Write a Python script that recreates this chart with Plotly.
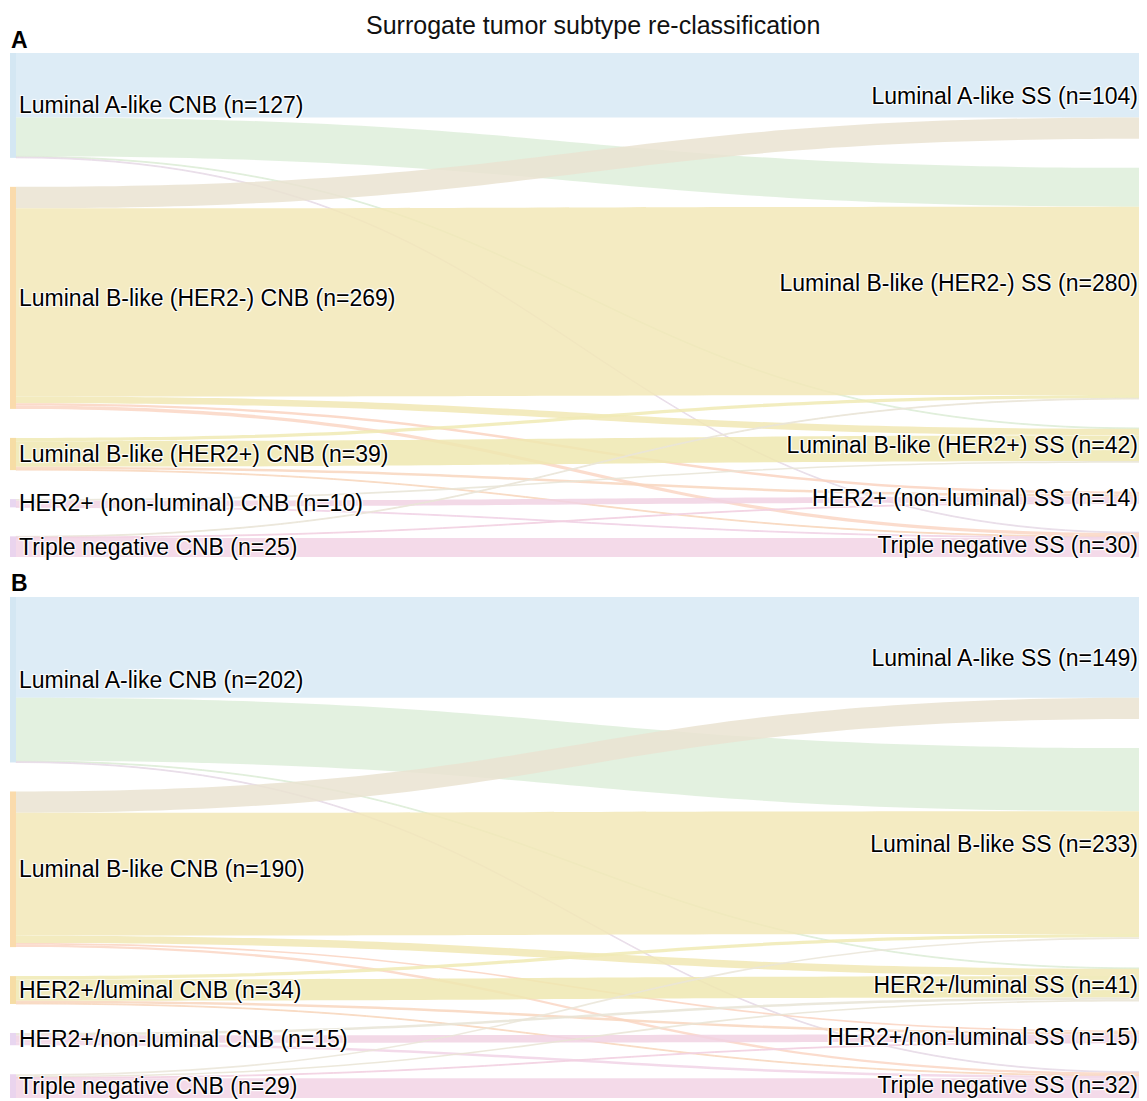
import plotly.graph_objects as go

# ---------------- Data ----------------
title_text = "Surrogate tumor subtype re-classification"

# Panel A
a_left_labels = ["Luminal A-like CNB (n=127)", "Luminal B-like (HER2-) CNB (n=269)",
                 "Luminal B-like (HER2+) CNB (n=39)", "HER2+ (non-luminal) CNB (n=10)",
                 "Triple negative CNB (n=25)"]
a_right_labels = ["Luminal A-like SS (n=104)", "Luminal B-like (HER2-) SS (n=280)",
                  "Luminal B-like (HER2+) SS (n=42)", "HER2+ (non-luminal) SS (n=14)",
                  "Triple negative SS (n=30)"]
# rows: CNB subtype, cols: SS subtype
a_flows = [
    [78, 47, 1, 0, 1],
    [26, 228, 8, 3, 4],
    [0, 4, 31, 3, 1],
    [0, 0, 2, 7, 1],
    [0, 1, 0, 1, 23],
]

# Panel B
b_left_labels = ["Luminal A-like CNB (n=202)", "Luminal B-like CNB (n=190)",
                 "HER2+/luminal CNB (n=34)", "HER2+/non-luminal CNB (n=15)",
                 "Triple negative CNB (n=29)"]
b_right_labels = ["Luminal A-like SS (n=149)", "Luminal B-like SS (n=233)",
                  "HER2+/luminal SS (n=41)", "HER2+/non-luminal SS (n=15)",
                  "Triple negative SS (n=32)"]
b_flows = [
    [123, 77, 1, 0, 1],
    [26, 150, 9, 2, 3],
    [0, 4, 26, 3, 1],
    [0, 0, 3, 9, 3],
    [0, 2, 2, 1, 24],
]

# ---------------- Styling ----------------
left_rgb = [(212, 231, 243), (250, 219, 172), (246, 221, 165), (232, 214, 240), (234, 212, 238)]
right_rgb = [(218, 235, 246), (233, 246, 194), (232, 243, 188), (250, 206, 214), (250, 210, 220)]

W, H = 1139.0, 1093.0   # drawable area (page has an 8px body margin)
OFF = 8.0               # offset of reference pixel coords


def rgba(c, a=1.0):
    return f"rgba({c[0]},{c[1]},{c[2]},{a})"


def mix(c1, c2):
    return tuple(int(round((x + y) / 2)) for x, y in zip(c1, c2))


def py(y_ref):
    return 1 - (y_ref - OFF) / H


def px(x_ref):
    return (x_ref - OFF) / W


def build_sankey(left_labels, right_labels, flows, y_top, y_bot):
    n = len(left_labels)
    labels = left_labels + right_labels
    node_colors = [rgba(c, 1) for c in left_rgb] + [rgba(c, 1) for c in right_rgb]
    src, tgt, val, col = [], [], [], []
    for i in range(n):
        for j in range(n):
            v = flows[i][j]
            if v > 0:
                src.append(i)
                tgt.append(n + j)
                val.append(v)
                col.append(rgba(mix(left_rgb[i], right_rgb[j]), 0.85))
    return go.Sankey(
        domain=dict(x=[px(10), 1.0], y=[py(y_bot), py(y_top)]),
        arrangement="fixed",
        node=dict(
            label=labels,
            color=node_colors,
            pad=29,
            thickness=6,
            line=dict(width=0),
        ),
        link=dict(source=src, target=tgt, value=val, color=col, line=dict(width=0)),
        textfont=dict(family="Liberation Sans, Arial, sans-serif", size=23, color="black"),
    )


fig = go.Figure()
fig.add_trace(build_sankey(a_left_labels, a_right_labels, a_flows, 53, 557))
fig.add_trace(build_sankey(b_left_labels, b_right_labels, b_flows, 597, 1098))

fig.update_layout(
    width=W, height=H,
    margin=dict(l=0, r=0, t=0, b=0),
    paper_bgcolor="white",
    font=dict(family="Liberation Sans, Arial, sans-serif", color="black"),
    annotations=[
        dict(text=title_text, x=px(593), y=py(25), xref="paper", yref="paper",
             showarrow=False, xanchor="center", yanchor="middle",
             font=dict(size=25, color="#111")),
        dict(text="<b>A</b>", x=px(9), y=py(40), xref="paper", yref="paper",
             showarrow=False, xanchor="left", yanchor="middle",
             font=dict(size=23, color="black")),
        dict(text="<b>B</b>", x=px(9), y=py(583), xref="paper", yref="paper",
             showarrow=False, xanchor="left", yanchor="middle",
             font=dict(size=23, color="black")),
    ],
)

fig.write_html("out.html")
